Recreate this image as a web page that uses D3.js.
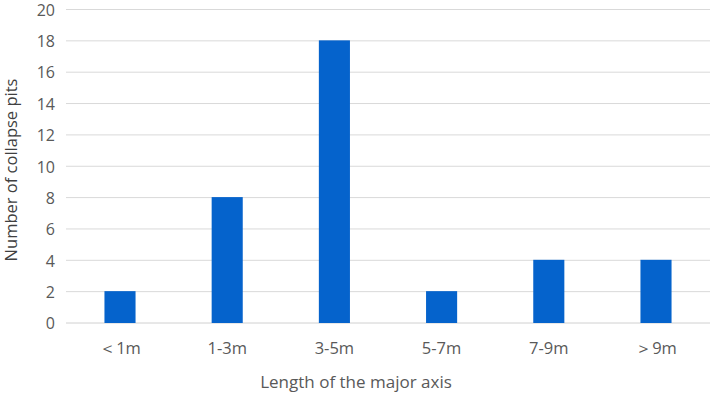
<!DOCTYPE html>
<html><head><meta charset="utf-8">
<script src="https://cdn.jsdelivr.net/npm/d3@7"></script>
<style>body{margin:0;background:#fff}svg{display:block}</style>
</head><body>
<script>
const categories = ["＜1m","1-3m","3-5m","5-7m","7-9m","＞9m"];
const counts = [2,8,18,2,4,4];
const yTicks = [0,2,4,6,8,10,12,14,16,18,20];
const xTitle = "Length of the major axis";
const yTitle = "Number of collapse pits";

const W=713,H=395;
const svg=d3.select("body").append("svg").attr("width",W).attr("height",H);
const font="'Open Sans', 'Noto Sans', sans-serif";
const x=d3.scaleBand().domain(categories).range([66.4,709.6]).paddingInner(0.71).paddingOuter(0.355);
const y=d3.scaleLinear().domain([0,20]).range([323,9.5]);

const grid=svg.append("g");
grid.selectAll("line").data(yTicks).join("line")
 .attr("x1",66).attr("x2",710).attr("y1",d=>y(d)).attr("y2",d=>y(d))
 .attr("stroke",d=>d===0?"#d0d0d0":"#d9d9d9").attr("stroke-width",1);

const yAxis=d3.axisLeft(y).tickValues(yTicks).tickSize(0).tickPadding(0);
const ga=svg.append("g").attr("transform","translate(55,0)").call(yAxis);
ga.select(".domain").remove();
ga.selectAll("text").attr("font-family",font).attr("font-size",16).attr("fill","#595959").attr("dy","0.36em");

svg.append("g").selectAll("rect").data(counts).join("rect")
 .attr("x",(d,i)=>x(categories[i])).attr("width",x.bandwidth())
 .attr("y",d=>y(d)-0.5).attr("height",d=>y(0)-y(d)+0.5).attr("fill","#0563CC");

const xAxis=d3.axisBottom(x).tickSize(0).tickPadding(0);
const gx=svg.append("g").attr("transform","translate(0,348)").call(xAxis);
gx.select(".domain").remove();
gx.selectAll("text").attr("font-family",font).attr("font-size",16.5).attr("fill","#595959").attr("dy","0.36em");

svg.append("text").attr("x",356).attr("y",383).attr("text-anchor","middle").attr("dominant-baseline","middle")
 .attr("font-family",font).attr("font-size",17).attr("fill","#595959").text(xTitle);
svg.append("text").attr("transform","translate(13,170) rotate(-90)").attr("text-anchor","middle").attr("dominant-baseline","middle")
 .attr("font-family",font).attr("font-size",16.5).attr("fill","#404040").text(yTitle);
</script>
</body></html>
